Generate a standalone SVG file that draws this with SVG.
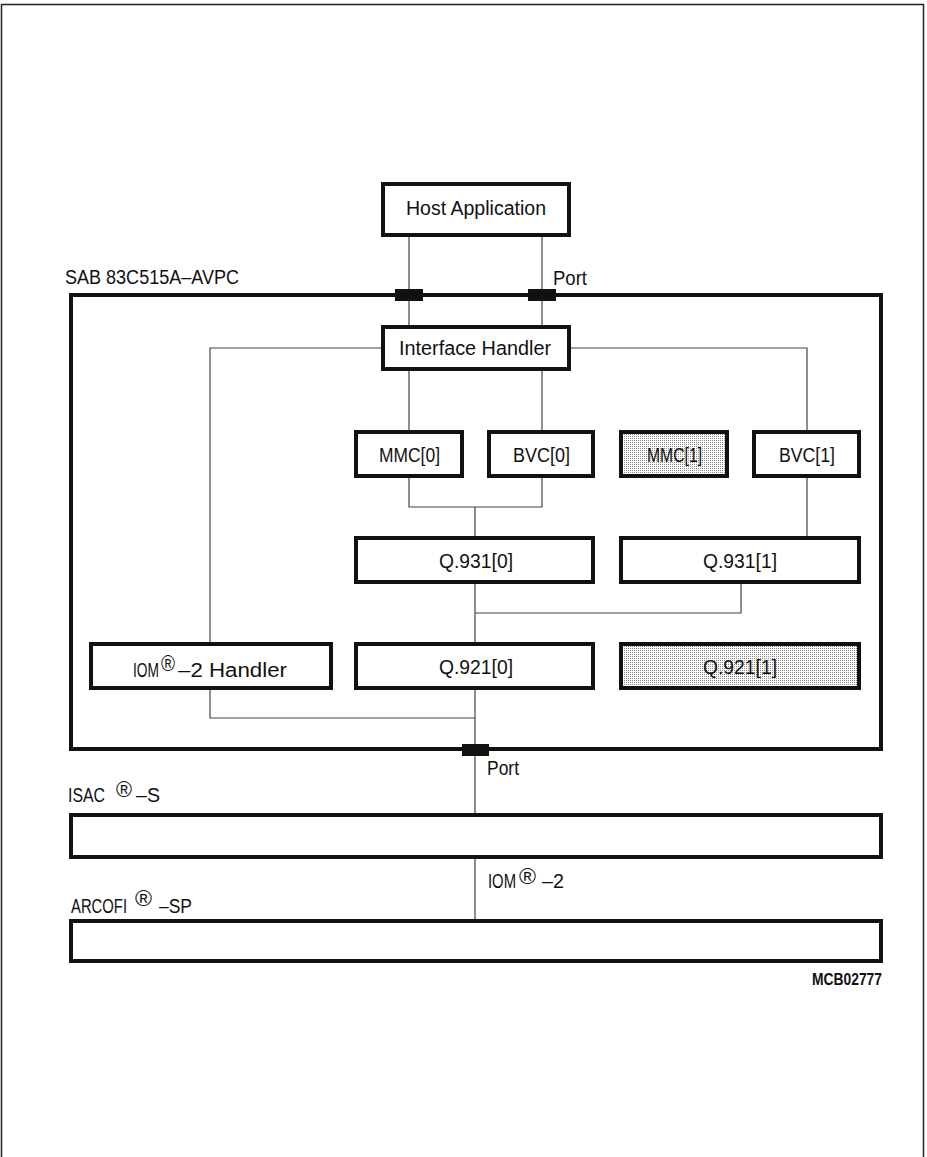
<svg xmlns="http://www.w3.org/2000/svg" width="927" height="1157" viewBox="0 0 927 1157">
<style>
text{font-family:"Liberation Sans",Arial,sans-serif;font-size:20px;fill:#111}
.box{fill:#fff;stroke:#111;stroke-width:4}
.shade{fill:url(#dots);stroke:#111;stroke-width:4}
.big{fill:none;stroke:#111;stroke-width:4}
.conn{fill:none;stroke:#444;stroke-width:1.2}
.port{fill:#111}
.r{font-size:22px}
.id{font-size:16px;font-weight:bold}
</style>
<defs>
<pattern id="dots" width="2" height="2" patternUnits="userSpaceOnUse">
<rect width="2" height="2" fill="#fff"/>
<rect width="1" height="1" fill="#8a8a8a"/>
</pattern>
</defs>
<rect x="0" y="0" width="927" height="1157" fill="#fff"/>
<rect x="1.5" y="4.5" width="922" height="1170" fill="none" stroke="#222" stroke-width="1.5"/>

<g id="connectors">
<path class="conn" d="M409 236V327 M542 236V327"/>
<path class="conn" d="M383 348H210V718H475 M570 348H807V432"/>
<path class="conn" d="M409 370V432 M542 370V432"/>
<path class="conn" d="M409 476V507H542V476 M475 507V538"/>
<path class="conn" d="M807 476V538"/>
<path class="conn" d="M475 582V644 M475 613H741V582"/>
<path class="conn" d="M475 688V813 M475 857V921"/>
</g>

<g id="frame-sab">
<rect class="big" x="71" y="295" width="810" height="454"/>
<text x="65" y="284" textLength="174" lengthAdjust="spacingAndGlyphs">SAB 83C515A–AVPC</text>
</g>

<g id="ports">
<rect class="port" x="395" y="289" width="28" height="12"/>
<rect class="port" x="528" y="289" width="28" height="12"/>
<text x="553" y="285" textLength="34" lengthAdjust="spacingAndGlyphs">Port</text>
<rect class="port" x="462" y="744" width="27" height="12"/>
<text x="487" y="775" textLength="32" lengthAdjust="spacingAndGlyphs">Port</text>
</g>

<g id="host">
<rect class="box" x="383" y="184" width="186" height="51"/>
<text x="406" y="215" textLength="140" lengthAdjust="spacingAndGlyphs">Host Application</text>
</g>

<g id="interface-handler">
<rect class="box" x="383" y="327" width="186" height="42"/>
<text x="399" y="355" textLength="152" lengthAdjust="spacingAndGlyphs">Interface Handler</text>
</g>

<g id="mmc0">
<rect class="box" x="356" y="432" width="106" height="44"/>
<text x="379" y="462" textLength="61" lengthAdjust="spacingAndGlyphs">MMC[0]</text>
</g>
<g id="bvc0">
<rect class="box" x="489" y="432" width="104" height="44"/>
<text x="513" y="462" textLength="57" lengthAdjust="spacingAndGlyphs">BVC[0]</text>
</g>
<g id="mmc1">
<rect class="shade" x="621" y="432" width="106" height="44"/>
<text x="647" y="462" textLength="55" lengthAdjust="spacingAndGlyphs">MMC[1]</text>
</g>
<g id="bvc1">
<rect class="box" x="754" y="432" width="105" height="44"/>
<text x="779" y="462" textLength="56" lengthAdjust="spacingAndGlyphs">BVC[1]</text>
</g>

<g id="q931-0">
<rect class="box" x="356" y="538" width="237" height="44"/>
<text x="439" y="568" textLength="74" lengthAdjust="spacingAndGlyphs">Q.931[0]</text>
</g>
<g id="q931-1">
<rect class="box" x="621" y="538" width="238" height="44"/>
<text x="703" y="568" textLength="74" lengthAdjust="spacingAndGlyphs">Q.931[1]</text>
</g>

<g id="iom-handler">
<rect class="box" x="91" y="644" width="240" height="44"/>
<text y="677"><tspan x="133" textLength="26" lengthAdjust="spacingAndGlyphs">IOM</tspan><tspan class="r" x="161" dy="-6" textLength="14" lengthAdjust="spacingAndGlyphs">®</tspan><tspan x="178" dy="6" textLength="109" lengthAdjust="spacingAndGlyphs">–2 Handler</tspan></text>
</g>
<g id="q921-0">
<rect class="box" x="356" y="644" width="237" height="44"/>
<text x="439" y="674" textLength="74" lengthAdjust="spacingAndGlyphs">Q.921[0]</text>
</g>
<g id="q921-1">
<rect class="shade" x="621" y="644" width="238" height="44"/>
<text x="703" y="674" textLength="74" lengthAdjust="spacingAndGlyphs">Q.921[1]</text>
</g>

<g id="isac">
<text y="802"><tspan x="68" textLength="37" lengthAdjust="spacingAndGlyphs">ISAC</tspan><tspan class="r" x="116" dy="-5" textLength="16" lengthAdjust="spacingAndGlyphs">®</tspan><tspan x="136" dy="5" textLength="24" lengthAdjust="spacingAndGlyphs">–S</tspan></text>
<rect class="big" x="71" y="815" width="810" height="42"/>
</g>

<g id="iom2-label">
<text y="888"><tspan x="488" textLength="28" lengthAdjust="spacingAndGlyphs">IOM</tspan><tspan class="r" x="519" dy="-4" textLength="17" lengthAdjust="spacingAndGlyphs">®</tspan><tspan x="542" dy="4" textLength="22" lengthAdjust="spacingAndGlyphs">–2</tspan></text>
</g>

<g id="arcofi">
<text y="913"><tspan x="71" textLength="56" lengthAdjust="spacingAndGlyphs">ARCOFI</tspan><tspan class="r" x="135" dy="-7" textLength="17" lengthAdjust="spacingAndGlyphs">®</tspan><tspan x="159" dy="7" textLength="33" lengthAdjust="spacingAndGlyphs">–SP</tspan></text>
<rect class="big" x="71" y="921" width="810" height="40"/>
</g>

<text class="id" x="812" y="985" textLength="70" lengthAdjust="spacingAndGlyphs">MCB02777</text>
</svg>
